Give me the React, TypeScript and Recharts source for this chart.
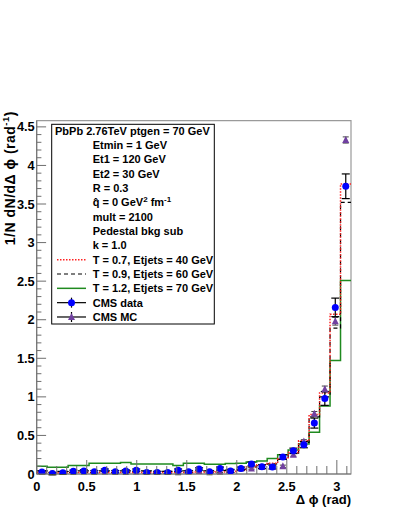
import React from 'react';
import { ComposedChart, Line, Scatter, XAxis, YAxis, ErrorBar, ReferenceArea } from 'recharts';

// ---- data (30 bins of width pi/30 over 0..pi) ----
const NBINS = 30;
const X_MAX = Math.PI;
const BIN_W = X_MAX / NBINS;

const cmsData = [0.025, 0.005, 0.015, 0.035, 0.04, 0.03, 0.05, 0.03, 0.04, 0.05, 0.02, 0.02, 0.02, 0.05, 0.03, 0.065,
  0.03, 0.07, 0.04, 0.07, 0.13, 0.095, 0.09, 0.22, 0.30, 0.38, 0.66, 0.98, 2.16, 3.73];
const cmsDataErr = [0.015, 0.015, 0.015, 0.015, 0.015, 0.015, 0.015, 0.015, 0.015, 0.015, 0.015, 0.015, 0.015, 0.015, 0.015, 0.015,
  0.015, 0.02, 0.02, 0.02, 0.025, 0.025, 0.025, 0.03, 0.035, 0.04, 0.065, 0.09, 0.12, 0.16];
const cmsMC = [0.005, 0.0, 0.005, 0.005, 0.01, 0.005, 0.01, 0.005, 0.005, 0.01, 0.005, 0.005, 0.005, 0.0, 0.01, 0.02,
  0.0, 0.01, 0.03, 0.07, 0.07, 0.09, 0.09, 0.10, 0.25, 0.42, 0.78, 1.10, 1.98, 4.33];
const cmsMCErr = [0.01, 0.01, 0.01, 0.01, 0.01, 0.01, 0.01, 0.01, 0.01, 0.01, 0.01, 0.01, 0.01, 0.01, 0.01, 0.01,
  0.01, 0.01, 0.01, 0.01, 0.01, 0.01, 0.01, 0.015, 0.02, 0.025, 0.03, 0.04, 0.05, 0.04];
const histT07 = [0.02, 0.02, 0.015, 0.02, 0.02, 0.02, 0.02, 0.02, 0.02, 0.02, 0.02, 0.02, 0.02, 0.02, 0.02, 0.025,
  0.02, 0.025, 0.03, 0.05, 0.09, 0.12, 0.14, 0.2, 0.28, 0.43, 0.77, 1.05, 2.07, 3.76];
const histT09 = [0.04, 0.035, 0.035, 0.04, 0.04, 0.04, 0.04, 0.04, 0.04, 0.04, 0.04, 0.035, 0.035, 0.04, 0.04, 0.04,
  0.04, 0.045, 0.05, 0.06, 0.09, 0.11, 0.13, 0.19, 0.27, 0.41, 0.74, 1.0, 1.89, 3.52];
const histT12 = [0.10, 0.087, 0.087, 0.11, 0.11, 0.14, 0.14, 0.14, 0.15, 0.13, 0.13, 0.13, 0.13, 0.11, 0.14, 0.14,
  0.125, 0.125, 0.135, 0.14, 0.155, 0.17, 0.2, 0.25, 0.31, 0.39, 0.54, 0.88, 1.47, 2.51];

const xTicks = [0, 0.1, 0.2, 0.3, 0.4, 0.5, 0.6, 0.7, 0.8, 0.9, 1, 1.1, 1.2, 1.3, 1.4, 1.5, 1.6, 1.7, 1.8, 1.9, 2,
  2.1, 2.2, 2.3, 2.4, 2.5, 2.6, 2.7, 2.8, 2.9, 3, 3.1];
const yTicks = Array.from({ length: 46 }, (_, i) => i / 10);
const Y_MAX = 4.58;

const legendInfo = ['Etmin = 1 GeV', 'Et1 = 120 GeV', 'Et2 = 30 GeV', 'R = 0.3'];
const legendInfo2 = ['mult = 2100', 'Pedestal bkg sub', 'k = 1.0'];
const seriesNames = ['T = 0.7, Etjets = 40 GeV', 'T = 0.9, Etjets = 60 GeV', 'T = 1.2, Etjets = 70 GeV', 'CMS data', 'CMS MC'];

// ---- derived tables ----
const histRows = (vals: number[]) => {
  const rows = vals.map((v, i) => ({ x: i * BIN_W, y: v }));
  rows.push({ x: X_MAX, y: vals[vals.length - 1] });
  return rows;
};
const pointRows = (vals: number[], errs: number[]) => vals.map((v, i) => ({ x: (i + 0.5) * BIN_W, y: v, err: errs[i] }));

const FONT = '"Liberation Sans", Arial, Helvetica, sans-serif';
const AXIS_COLOR = '#6e6e6e';

const isMajor = (v: number) => Math.abs(v * 2 - Math.round(v * 2)) < 1e-6;
const fmt = (v: number) => String(Math.round(v * 10) / 10);

const renderXTick = (props: any) => {
  const { x, y, payload } = props;
  const v = payload.value as number;
  const major = isMajor(v);
  return (
    <g key={`xt-${v}`}>
      <line x1={x} x2={x} y1={y} y2={y - (major ? 14 : 8)} stroke={AXIS_COLOR} strokeWidth={1} />
      {major && (
        <text x={x} y={y + 16.5} textAnchor="middle" fontFamily={FONT} fontWeight="bold" fontSize={12.8} fill="#000">
          {fmt(v)}
        </text>
      )}
    </g>
  );
};

const renderYTick = (props: any) => {
  const { x, y, payload } = props;
  const v = payload.value as number;
  const major = isMajor(v);
  return (
    <g key={`yt-${v}`}>
      <line x1={x} x2={x + (major ? 9.4 : 4.7)} y1={y} y2={y} stroke={AXIS_COLOR} strokeWidth={1} />
      {major && (
        <text x={x - 2} y={y + 4.5} textAnchor="end" fontFamily={FONT} fontWeight="bold" fontSize={12.8} fill="#000">
          {fmt(v)}
        </text>
      )}
    </g>
  );
};

const Circle = (p: any) => <circle cx={p.cx} cy={p.cy} r={3.5} fill="#0000ff" />;
const Tri = (p: any) => (
  <polygon points={`${p.cx},${p.cy - 4} ${p.cx - 3.5},${p.cy + 3} ${p.cx + 3.5},${p.cy + 3}`} fill="#7040a0" />
);

const RED = '#ff2020';
const GREEN = '#1f8a1f';

export default function App() {
  const L = { left: 51.7, top: 124.3, width: 162.6, height: 199.7 };
  const rowY = (i: number) => 130.7 + i * 14.33 + 4;
  const textX = 92.7;
  const symX1 = 57;
  const symX2 = 86;
  const symC = (symX1 + symX2) / 2;
  const txt = { fontFamily: FONT, fontWeight: 'bold' as const, fontSize: 11, fill: '#000' };
  return (
    <div style={{ position: 'absolute', left: 0, top: 0, width: 399, height: 516, background: '#fff' }}>
      <ComposedChart width={399} height={516} margin={{ top: 120.7, right: 48, bottom: 0, left: 0 }}>
        <XAxis dataKey="x" type="number" domain={[0, X_MAX]} ticks={xTicks} interval={0} tickSize={0} tickMargin={0}
          tickLine={false} tick={renderXTick} axisLine={{ stroke: AXIS_COLOR }} height={42} allowDataOverflow />
        <YAxis dataKey="y" type="number" domain={[0, Y_MAX]} ticks={yTicks} interval={0} tickSize={0} tickMargin={0}
          tickLine={false} tick={renderYTick} axisLine={{ stroke: AXIS_COLOR }} width={36.7} allowDataOverflow />
        <ReferenceArea x1={0} x2={X_MAX} y1={0} y2={Y_MAX} fill="none" fillOpacity={0} stroke="#9a9a9a" strokeWidth={1.2} ifOverflow="visible" />
        <Line data={histRows(histT12)} dataKey="y" type="stepAfter" stroke={GREEN} strokeWidth={1.5} dot={false} isAnimationActive={false} />
        <Line data={histRows(histT09)} dataKey="y" type="stepAfter" stroke="#000" strokeWidth={1.2} strokeDasharray="4 3" dot={false} isAnimationActive={false} />
        <Line data={histRows(histT07)} dataKey="y" type="stepAfter" stroke={RED} strokeWidth={1.5} strokeDasharray="1.5 1.5" dot={false} isAnimationActive={false} />
        <Scatter data={pointRows(cmsMC, cmsMCErr)} dataKey="y" shape={Tri} isAnimationActive={false}>
          <ErrorBar dataKey="err" direction="y" width={3} stroke="#444" strokeWidth={1} />
        </Scatter>
        <Scatter data={pointRows(cmsData, cmsDataErr)} dataKey="y" shape={Circle} isAnimationActive={false}>
          <ErrorBar dataKey="err" direction="y" width={4} stroke="#000" strokeWidth={1.2} />
        </Scatter>
      </ComposedChart>
      <svg width={399} height={516} style={{ position: 'absolute', left: 0, top: 0, pointerEvents: 'none' }}>
        {/* y axis title */}
        <text x={14.5} y={111} transform="rotate(-90 14.5 111)" textAnchor="end" fontFamily={FONT} fontWeight="bold" fontSize={14} letterSpacing={0.5} fill="#000">
          1/N dN/dΔ ϕ (rad<tspan fontSize={9.5} dy={-5.5}>-1</tspan><tspan dy={5.5}>)</tspan>
        </text>
        {/* x axis title */}
        <text x={351} y={504} textAnchor="end" fontFamily={FONT} fontWeight="bold" fontSize={13} fill="#000">
          Δ ϕ (rad)
        </text>
        {/* legend */}
        <rect x={L.left} y={L.top} width={L.width} height={L.height} fill="#fff" stroke="#000" strokeWidth={1} />
        <text x={55} y={rowY(0)} {...txt}>PbPb 2.76TeV ptgen = 70 GeV</text>
        {legendInfo.map((s, i) => (
          <text key={s} x={textX} y={rowY(i + 1)} {...txt}>{s}</text>
        ))}
        <text x={textX} y={rowY(5)} {...txt}>
          q̂ = 0 GeV<tspan fontSize={8} dy={-4}>2</tspan><tspan dy={4}> fm</tspan><tspan fontSize={8} dy={-4}>-1</tspan>
        </text>
        {legendInfo2.map((s, i) => (
          <text key={s} x={textX} y={rowY(i + 6)} {...txt}>{s}</text>
        ))}
        <line x1={symX1} x2={symX2} y1={rowY(9) - 4} y2={rowY(9) - 4} stroke={RED} strokeWidth={1.5} strokeDasharray="1.5 1.5" />
        <line x1={symX1} x2={symX2} y1={rowY(10) - 4} y2={rowY(10) - 4} stroke="#000" strokeWidth={1.2} strokeDasharray="4 3" />
        <line x1={symX1} x2={symX2} y1={rowY(11) - 4} y2={rowY(11) - 4} stroke={GREEN} strokeWidth={1.5} />
        <line x1={symX1} x2={symX2} y1={rowY(12) - 4} y2={rowY(12) - 4} stroke="#000" strokeWidth={1.2} />
        <line x1={symC} x2={symC} y1={rowY(12) - 9} y2={rowY(12) + 1} stroke="#000" strokeWidth={1.2} />
        <circle cx={symC} cy={rowY(12) - 4} r={3.5} fill="#0000ff" />
        <line x1={symX1} x2={symX2} y1={rowY(13) - 4} y2={rowY(13) - 4} stroke="#000" strokeWidth={1.2} />
        <line x1={symC} x2={symC} y1={rowY(13) - 9} y2={rowY(13) + 1} stroke="#000" strokeWidth={1.2} />
        <polygon points={`${symC},${rowY(13) - 8} ${symC - 3.5},${rowY(13) - 1} ${symC + 3.5},${rowY(13) - 1}`} fill="#7040a0" />
        {seriesNames.map((s, i) => (
          <text key={s} x={textX} y={rowY(i + 9)} {...txt}>{s}</text>
        ))}
      </svg>
    </div>
  );
}
